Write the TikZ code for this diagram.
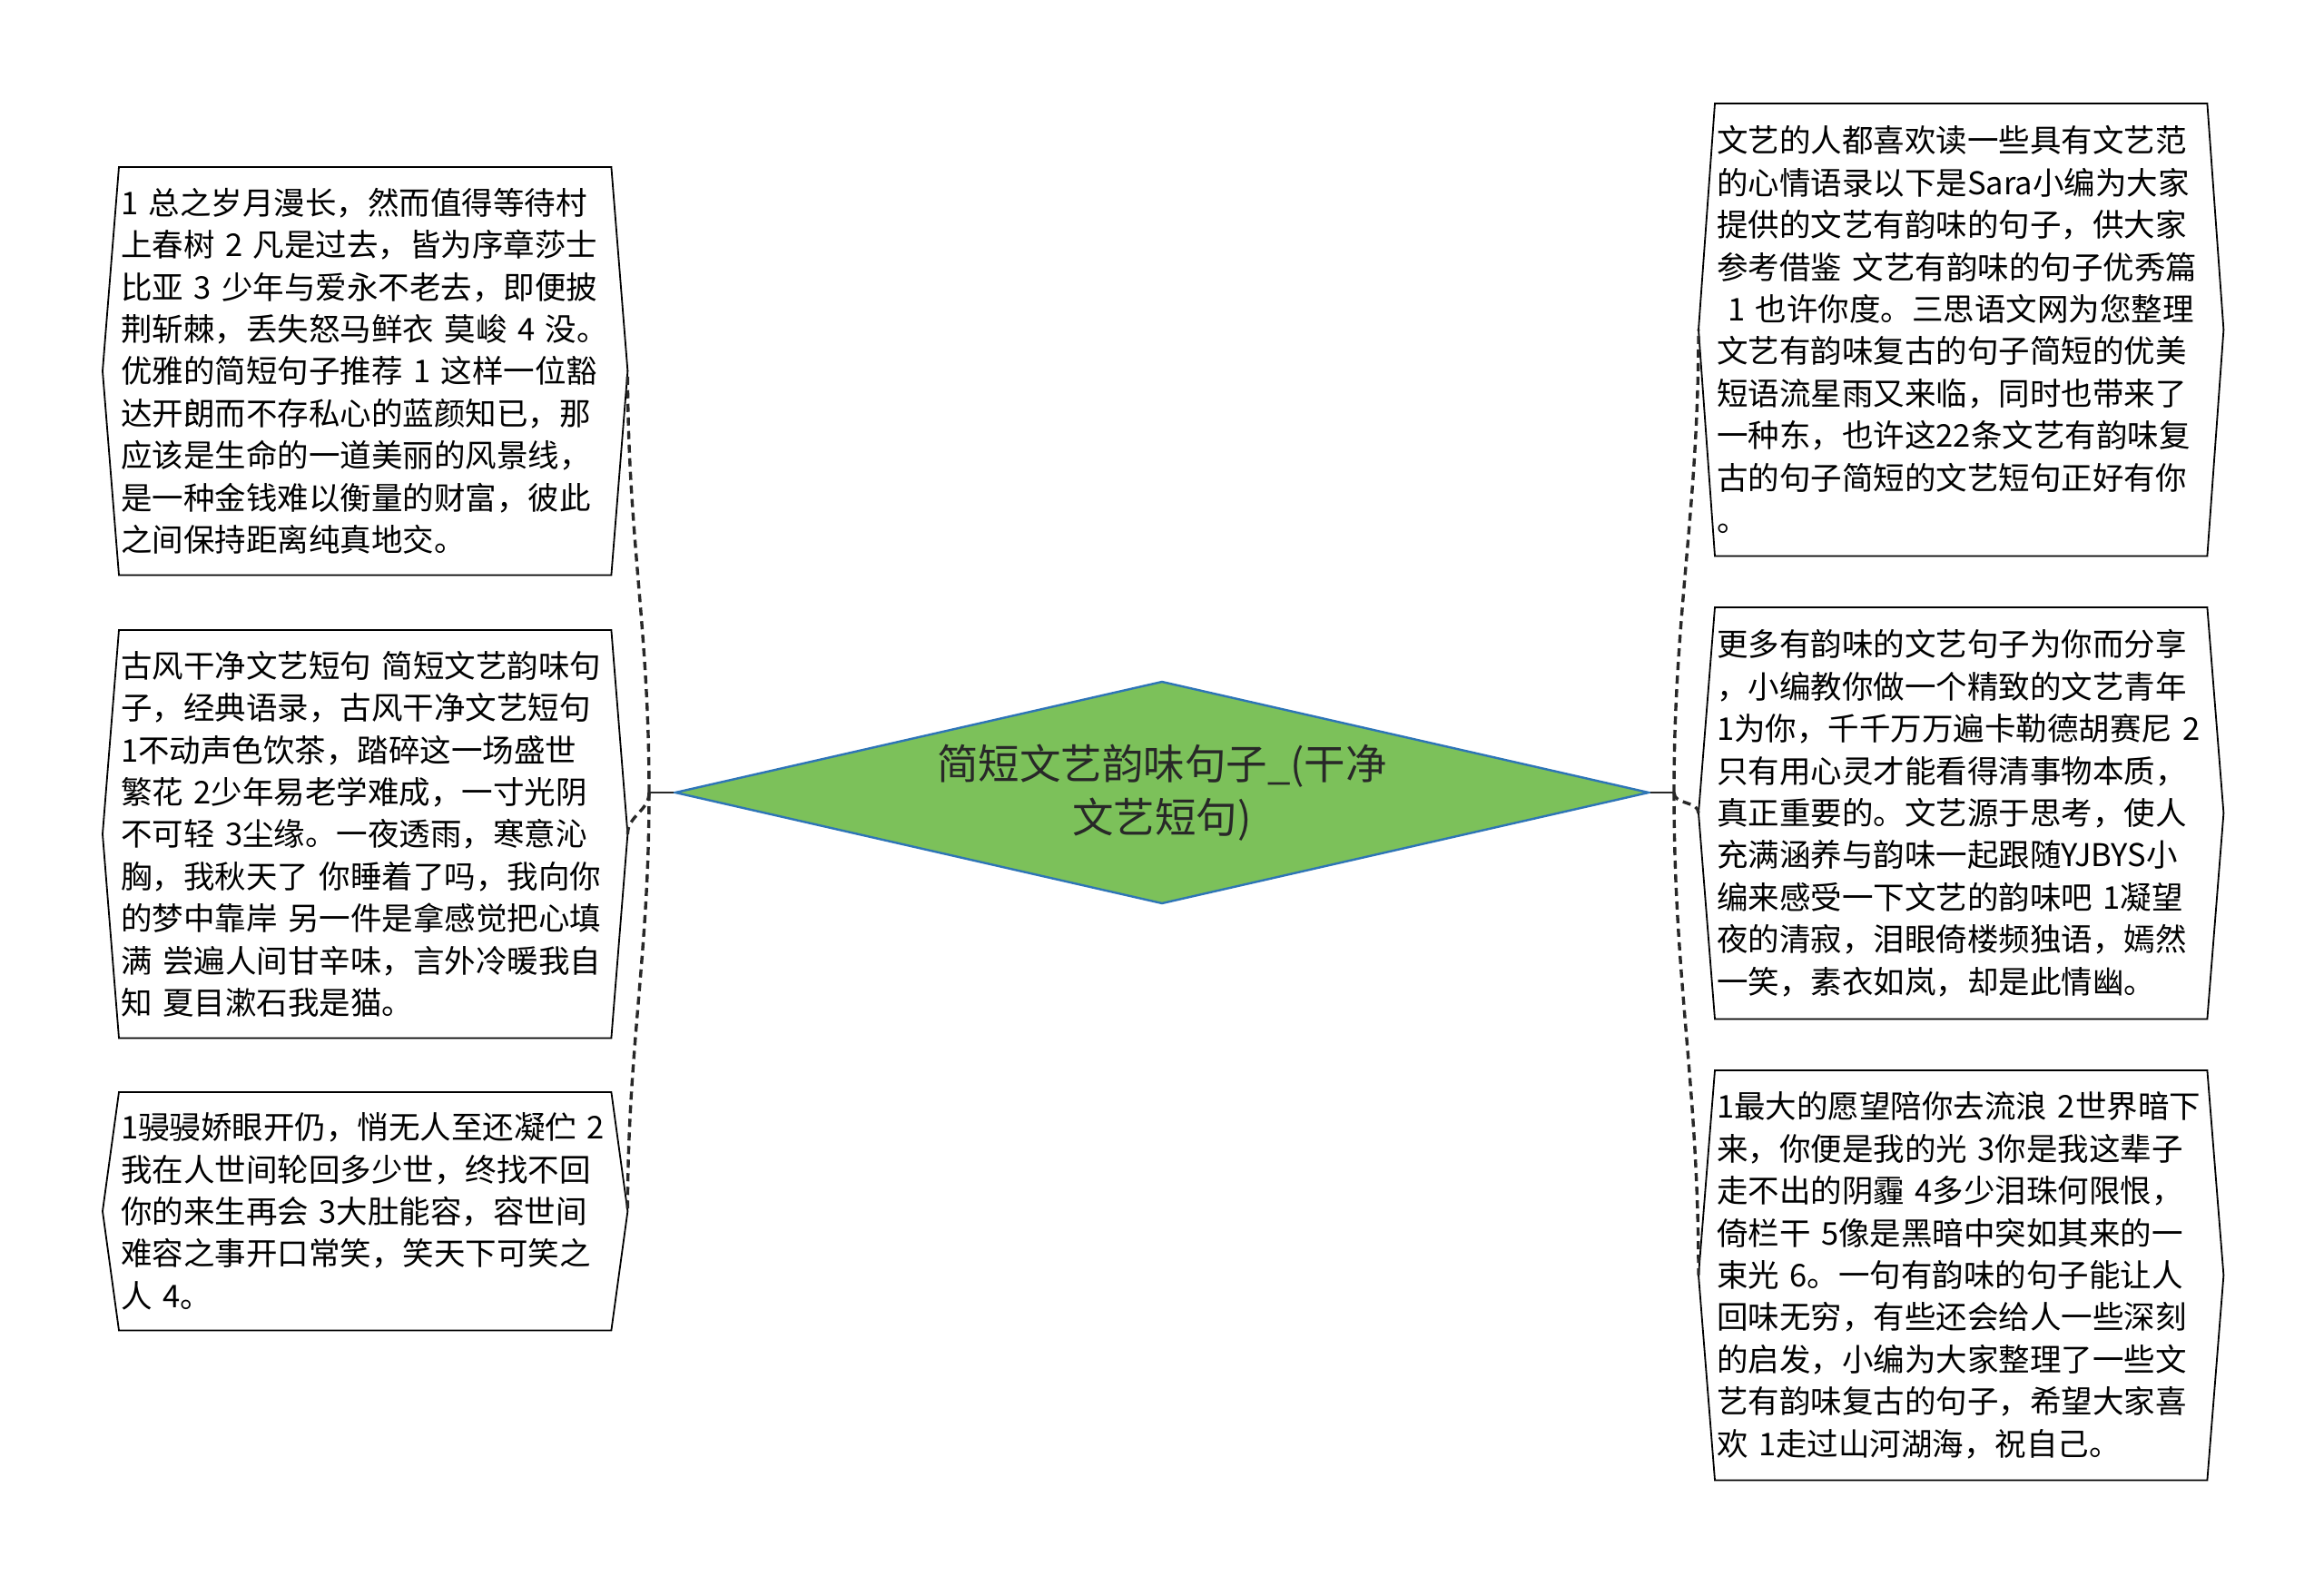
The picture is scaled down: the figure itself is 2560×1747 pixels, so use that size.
\documentclass[tikz,border=0pt]{standalone}
\usepackage{fontspec}
\setmainfont{Noto Sans CJK SC}
\usepackage{tikz}
\usetikzlibrary{shapes.geometric,positioning}
\definecolor{leafgreen}{RGB}{124,193,90}
\definecolor{rimblue}{RGB}{46,117,182}
\definecolor{inkgray}{RGB}{40,40,40}
\newcommand\leafoutline[1]{\draw[outline] (#1.north west) -- (#1.north east) -- ([xshift = 18pt]#1.east) coordinate (#1-e) -- (#1.south east) -- (#1.south west) -- ([xshift = -18pt]#1.west) coordinate (#1-w) -- cycle;}

\begin{document}
\begin{tikzpicture}[x = 1pt, y = -1pt,
	leaf/.style = {align = left, anchor = north west, text width = 538pt, inner xsep = 2pt, inner ysep = 0pt, font = \fontsize{34.5pt}{46.4pt}\selectfont, text = black},
	outline/.style = {draw = black, line width = 1.8pt},
	link/.style = {draw = inkgray, line width = 3.4pt, dash pattern = on 9pt off 6pt},
	stem/.style = {draw = inkgray, line width = 2.8pt}]
	\fill[white] (0,0) rectangle (2560,1747);
	\useasboundingbox (0,0) rectangle (2560,1747);
	% centre topic
	\node[diamond, aspect = 4.38, fill = leafgreen, draw = rimblue, line width = 2.4pt, minimum width = 1073pt, minimum height = 245pt, inner sep = 0pt, align = center, text = inkgray, font = \fontsize{45.5pt}{59pt}\selectfont] (core) at (1280,873) {简短文艺韵味句子\_(干净\\文艺短句)};
	\coordinate (jl) at (715,873);
	\coordinate (jr) at (1844,873);
	% left side
	\node[leaf, minimum height = 449pt] (l1) at (131,184) {1~总之岁月漫长，然而值得等待村\\上春树~2~凡是过去，皆为序章莎士\\比亚~3~少年与爱永不老去，即便披\\荆斩棘，丢失怒马鲜衣~莫峻~4~没。\\优雅的简短句子推荐~1~这样一位豁\\达开朗而不存私心的蓝颜知已，那\\应该是生命的一道美丽的风景线，\\是一种金钱难以衡量的财富，彼此\\之间保持距离纯真地交。};
	\node[leaf, minimum height = 449pt] (l2) at (131,694) {古风干净文艺短句~简短文艺韵味句\\子，经典语录，古风干净文艺短句\\1不动声色饮茶，踏碎这一场盛世\\繁花~2少年易老学难成，一寸光阴\\不可轻~3尘缘。一夜透雨，寒意沁\\胸，我秋天了~你睡着了吗，我向你\\的梦中靠岸~另一件是拿感觉把心填\\满~尝遍人间甘辛味，言外冷暖我自\\知~夏目漱石我是猫。};
	\node[leaf, minimum height = 262pt] (l3) at (131,1203) {1骎骎娇眼开仍，悄无人至还凝伫~2\\我在人世间轮回多少世，终找不回\\你的来生再会~3大肚能容，容世间\\难容之事开口常笑，笑天下可笑之\\人~4。};
	% right side
	\node[leaf, minimum height = 498pt] (r1) at (1889,114) {文艺的人都喜欢读一些具有文艺范\\的心情语录以下是Sara小编为大家\\提供的文艺有韵味的句子，供大家\\参考借鉴~文艺有韵味的句子优秀篇\\\hspace*{.35em}1~也许你度。三思语文网为您整理\\文艺有韵味复古的句子简短的优美\\短语流星雨又来临，同时也带来了\\一种东，也许这22条文艺有韵味复\\古的句子简短的文艺短句正好有你\\。};
	\node[leaf, minimum height = 453pt] (r2) at (1889,669) {更多有韵味的文艺句子为你而分享\\，小编教你做一个精致的文艺青年\\1为你，千千万万遍卡勒德胡赛尼~2\\只有用心灵才能看得清事物本质，\\真正重要的。文艺源于思考，使人\\充满涵养与韵味一起跟随YJBYS小\\编来感受一下文艺的韵味吧~1凝望\\夜的清寂，泪眼倚楼频独语，嫣然\\一笑，素衣如岚，却是此情幽。};
	\node[leaf, minimum height = 451pt] (r3) at (1889,1179) {1最大的愿望陪你去流浪~2世界暗下\\来，你便是我的光~3你是我这辈子\\走不出的阴霾~4多少泪珠何限恨，\\倚栏干~5像是黑暗中突如其来的一\\束光~6。一句有韵味的句子能让人\\回味无穷，有些还会给人一些深刻\\的启发，小编为大家整理了一些文\\艺有韵味复古的句子，希望大家喜\\欢~1走过山河湖海，祝自己。};
	\leafoutline{l1}
	\leafoutline{l2}
	\leafoutline{l3}
	\leafoutline{r1}
	\leafoutline{r2}
	\leafoutline{r3}
	% connectors
	\draw[stem] (core.west) -- (jl);
	\draw[stem] (core.east) -- (jr);
	\draw[link] (jl) to[out = 90, in = -90] (l1-e);
	\draw[link] (jl) to[out = -90, in = 90] (l2-e);
	\draw[link] (jl) to[out = -90, in = 90] (l3-e);
	\draw[link] (jr) to[out = 90, in = -90] (r1-w);
	\draw[link] (jr) to[out = -90, in = 90] (r2-w);
	\draw[link] (jr) to[out = -90, in = 90] (r3-w);
\end{tikzpicture}
\end{document}
